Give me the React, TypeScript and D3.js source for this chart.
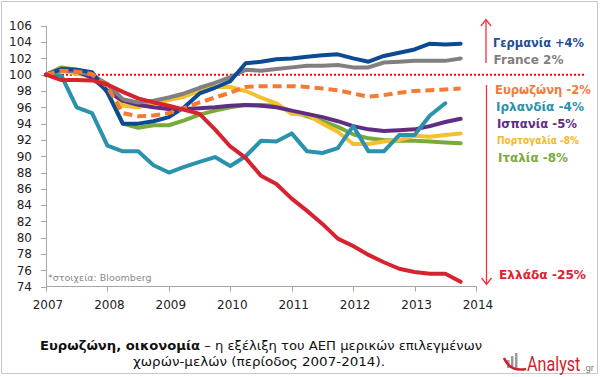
import React from "react";
import * as d3 from "d3";

const years = ["2007", "2008", "2009", "2010", "2011", "2012", "2013", "2014"];
const yTicks = d3.range(74, 107, 2);

const germany = [100, 100.7, 100.6, 100.3, 97.8, 94.0, 94.0, 94.3, 94.8, 96.0, 97.7, 98.4, 99.2, 101.4, 101.6, 101.9, 102.0, 102.2, 102.4, 102.5, 102.0, 101.6, 102.3, 102.7, 103.1, 103.8, 103.7, 103.8];
const france = [100, 100.6, 100.4, 100.0, 98.8, 97.0, 96.6, 96.8, 97.2, 97.7, 98.4, 99.0, 99.7, 100.6, 100.5, 100.7, 100.9, 101.1, 101.1, 101.2, 100.9, 100.9, 101.5, 101.6, 101.7, 101.7, 101.7, 102.0];
const eurozone = [100, 100.5, 100.4, 100.1, 98.5, 95.3, 94.9, 95.0, 95.3, 95.9, 96.6, 97.2, 97.8, 98.5, 98.6, 98.6, 98.6, 98.5, 98.3, 98.1, 97.7, 97.3, 97.5, 97.8, 98.0, 98.1, 98.2, 98.3];
const ireland = [100, 99.9, 96.0, 95.3, 91.3, 90.6, 90.6, 88.9, 88.0, 88.7, 89.3, 89.9, 88.8, 90.0, 91.9, 91.8, 92.8, 90.6, 90.4, 91.0, 93.7, 90.6, 90.6, 92.6, 92.6, 95.0, 96.5];
const spain = [100, 100.6, 100.4, 99.6, 98.0, 96.8, 96.3, 96.0, 95.8, 95.8, 95.9, 96.0, 96.2, 96.3, 96.2, 96.0, 95.6, 95.2, 94.8, 94.3, 93.7, 93.3, 93.1, 93.2, 93.3, 93.7, 94.2, 94.6];
const portugal = [100, 100.5, 100.1, 99.9, 98.9, 96.2, 96.0, 96.5, 96.9, 97.3, 98.0, 98.5, 98.5, 98.0, 97.2, 96.5, 95.2, 95.1, 94.0, 93.0, 91.5, 91.5, 91.8, 92.0, 92.5, 92.4, 92.6, 92.8];
const italy = [100, 100.9, 100.6, 100.2, 98.0, 94.0, 93.5, 93.8, 93.8, 94.4, 95.1, 95.6, 96.0, 96.3, 96.3, 96.2, 95.5, 94.9, 94.3, 93.6, 92.7, 92.2, 92.0, 91.9, 91.9, 91.8, 91.7, 91.6];
const greece = [100, 99.35, 99.35, 99.3, 98.8, 97.9, 97.1, 96.6, 96.2, 95.7, 95.2, 93.3, 91.2, 89.8, 87.6, 86.6, 84.8, 83.3, 81.7, 79.9, 79.0, 77.9, 77.0, 76.2, 75.8, 75.6, 75.6, 74.6];

const series = [
  { name: "Ιταλία", values: italy, color: "#7BAA3C", dashed: false },
  { name: "Πορτογαλία", values: portugal, color: "#F4C02E", dashed: false },
  { name: "Ισπανία", values: spain, color: "#5F2E82", dashed: false },
  { name: "Ιρλανδία", values: ireland, color: "#2A92AC", dashed: false },
  { name: "France", values: france, color: "#808080", dashed: false },
  { name: "Γερμανία", values: germany, color: "#0C4A94", dashed: false },
  { name: "Ευρωζώνη", values: eurozone, color: "#F47A36", dashed: true },
  { name: "Ελλάδα", values: greece, color: "#D7232F", dashed: false },
];

const legendLabels = [
  { text: "Γερμανία +4%", color: "#1F4E96", x: 493, y: 43, w: 91, fs: 11.5 },
  { text: "France 2%", color: "#7F7F7F", x: 493.5, y: 59.5, w: 70, fs: 11.5 },
  { text: "Ευρωζώνη -2%", color: "#F47A36", x: 495, y: 90, w: 96, fs: 11.5 },
  { text: "Ιρλανδία -4%", color: "#2A92AC", x: 496, y: 107, w: 88, fs: 11.5 },
  { text: "Ισπανία -5%", color: "#5F2E82", x: 497, y: 124, w: 80, fs: 11.5 },
  { text: "Πορτογαλία -8%", color: "#F4B82A", x: 497, y: 140.5, w: 82, fs: 10.5 },
  { text: "Ιταλία -8%", color: "#7BAA3C", x: 498, y: 157.5, w: 70, fs: 11.5 },
  { text: "Ελλάδα -25%", color: "#E0202C", x: 499, y: 274.5, w: 87, fs: 11.5 },
];

export default function App() {
  const W = 600, H = 377;
  const x = d3.scaleLinear().domain([2007, 2014]).range([46, 476]);
  const y = d3.scaleLinear().domain([74, 106]).range([286.7, 25.8]);
  const line = d3
    .line<number>()
    .x((_, i) => x(2007 + i / 4))
    .y((d) => y(d));
  const font = "'DejaVu Sans', Verdana, sans-serif";
  const axisColor = "#A6A6A6";
  const arrowColor = "#F0303A";

  return (
    <svg width={W} height={H} style={{ position: "absolute", left: 0, top: 0, background: "#fff" }} fontFamily={font}>
      <rect x={1.5} y={1.5} width={596} height={372} fill="#fff" stroke="#C8C8C8" strokeWidth={1} />
      {/* y axis */}
      <line x1={46.5} x2={46.5} y1={y(106)} y2={y(74)} stroke={axisColor} strokeWidth={1} />
      {yTicks.map((t) => (
        <g key={t}>
          <line x1={41} x2={46.5} y1={Math.round(y(t)) + 0.5} y2={Math.round(y(t)) + 0.5} stroke={axisColor} />
          <text x={32} y={y(t)} dy="0.36em" textAnchor="end" fontSize={12} fill="#222">
            {t}
          </text>
        </g>
      ))}
      {/* x axis */}
      <line x1={46} x2={476.5} y1={286.5} y2={286.5} stroke={axisColor} strokeWidth={1} />
      {years.map((yr, i) => (
        <g key={yr}>
          <line x1={Math.round(x(2007 + i)) + 0.5} x2={Math.round(x(2007 + i)) + 0.5} y1={286.5} y2={291.5} stroke={axisColor} />
          <text x={x(2007 + i) + 2} y={305} dy="0.36em" textAnchor="middle" fontSize={12} fill="#222">
            {yr}
          </text>
        </g>
      ))}
      <text x={48} y={277.5} dy="0.36em" fontSize={9.5} fill="#8A8A8A">
        *στοιχεία: Bloomberg
      </text>
      {/* 100 reference line */}
      <line x1={46} x2={586} y1={y(100)} y2={y(100)} stroke="#FF0000" strokeWidth={2} strokeDasharray="2,2" />
      {/* series */}
      {series.map((s) => (
        <path
          key={s.name}
          d={line(s.values) || ""}
          fill="none"
          stroke={s.color}
          strokeWidth={4}
          strokeLinejoin="round"
          strokeLinecap={s.dashed ? "butt" : "round"}
          strokeDasharray={s.dashed ? "9,5" : undefined}
        />
      ))}
      {/* arrows */}
      <line x1={486} x2={486} y1={63} y2={20} stroke={arrowColor} strokeWidth={1.3} />
      <polyline points="481,26 486,19.5 491,26" fill="none" stroke={arrowColor} strokeWidth={1.3} />
      <line x1={486.5} x2={486.5} y1={85} y2={284} stroke={arrowColor} strokeWidth={1.3} />
      <polyline points="481.5,278 486.5,284.5 491.5,278" fill="none" stroke={arrowColor} strokeWidth={1.3} />
      {/* legend labels */}
      {legendLabels.map((l) => (
        <text
          key={l.text}
          x={l.x}
          y={l.y}
          dy="0.36em"
          fontSize={l.fs}
          fontWeight="bold"
          fill={l.color}
          textLength={l.w}
          lengthAdjust="spacingAndGlyphs"
        >
          {l.text}
        </text>
      ))}
      {/* caption */}
      <text x={40} y={345.5} dy="0.36em" fontSize={13} fill="#111" textLength={442} lengthAdjust="spacingAndGlyphs">
        <tspan fontWeight="bold">Ευρωζώνη, οικονομία</tspan>
        <tspan> – η εξέλιξη του ΑΕΠ μερικών επιλεγμένων</tspan>
      </text>
      <text x={133} y={361.5} dy="0.36em" fontSize={13} fill="#111" textLength={252} lengthAdjust="spacingAndGlyphs">
        χωρών-μελών (περίοδος 2007-2014).
      </text>
      {/* logo */}
      <g>
        <rect x={507} y={360} width={2.5} height={8} fill="#9A9A9A" />
        <rect x={511} y={356} width={2.5} height={12} fill="#9A9A9A" />
        <rect x={515} y={353} width={2.5} height={15} fill="#9A9A9A" />
        <path d="M504,358 Q510,372 526,369" fill="none" stroke="#D01E2E" strokeWidth={2.5} />
        <text transform="translate(527,371) scale(0.95,1.15)" x={0} y={0} fontSize={17} fill="#D01E2E" fontFamily="'Liberation Sans Narrow', 'Roboto', sans-serif">
          Analyst
        </text>
        <text x={583} y={371} fontSize={9.5} fill="#7F7F7F" fontFamily="'Liberation Sans Narrow', 'Roboto', sans-serif">
          .gr
        </text>
      </g>
    </svg>
  );
}
